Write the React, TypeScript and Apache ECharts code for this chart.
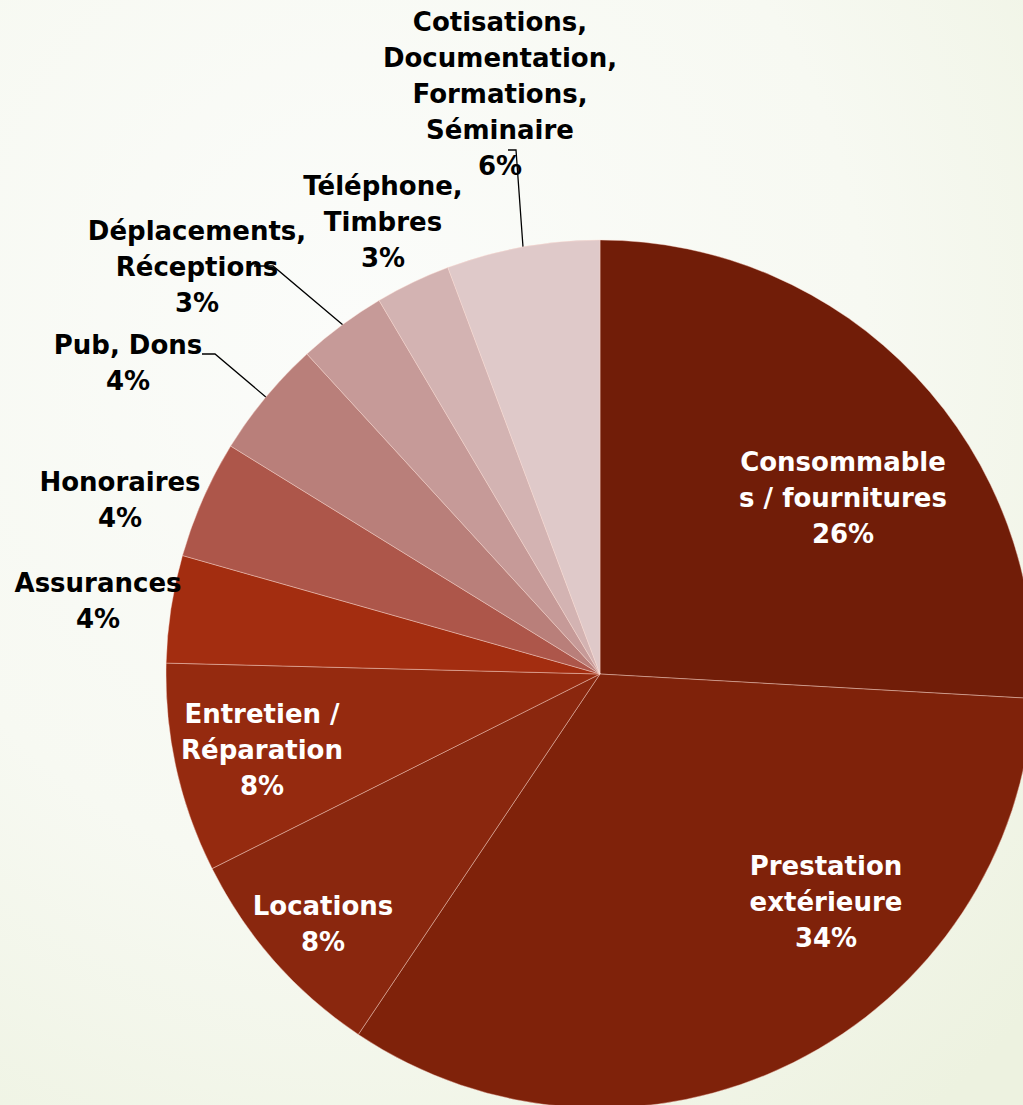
import React, { useEffect, useRef } from "react";
import * as echarts from "echarts";

// ---- Data ----
const categories = [
  "Consommables / fournitures",
  "Prestation extérieure",
  "Locations",
  "Entretien / Réparation",
  "Assurances",
  "Honoraires",
  "Pub, Dons",
  "Déplacements, Réceptions",
  "Téléphone, Timbres",
  "Cotisations, Documentation, Formations, Séminaire",
];
const values = [25.9, 33.5, 8.2, 7.8, 4.0, 4.4, 4.4, 3.3, 2.8, 5.7];
const labelTexts = [
  "Consommable\ns / fournitures",
  "Prestation\nextérieure",
  "Locations",
  "Entretien /\nRéparation",
  "Assurances",
  "Honoraires",
  "Pub, Dons",
  "Déplacements,\nRéceptions",
  "Téléphone,\nTimbres",
  "Cotisations,\nDocumentation,\nFormations,\nSéminaire",
];
const colors = [
  "#711D08",
  "#7F220A",
  "#8A270E",
  "#952A0F",
  "#A32D10",
  "#AD564A",
  "#B97F7A",
  "#C69A98",
  "#D3B3B2",
  "#DFC9C9",
];
const insideLabel = [true, true, true, true, false, false, false, false, false, false];

// ---- Layout (positions of label blocks, leader lines) ----
const labelPos: number[][] = [
  [843, 498],
  [826, 902],
  [323, 924],
  [262, 750],
  [98, 601],
  [120, 500],
  [128, 363],
  [197, 267],
  [383, 222],
  [500, 94],
];
const leaderLines: (number[][] | null)[] = [
  null,
  null,
  null,
  null,
  null,
  null,
  [[267, 398], [215, 354], [202, 354]],
  [[343, 325], [273, 266], [254, 266]],
  null,
  [[523, 247], [516, 150], [508, 150]],
];

export default function App() {
  const ref = useRef<HTMLDivElement>(null);
  useEffect(() => {
    document.body.style.margin = "0";
    const chart = echarts.init(ref.current!, null, { renderer: "svg" });
    const data = categories.map((name, i) => ({
      name,
      value: values[i],
      itemStyle: { color: colors[i] },
      label: {
        position: insideLabel[i] ? "inside" : "outside",
        color: insideLabel[i] ? "#ffffff" : "#000000",
      },
      labelLine: { show: !!leaderLines[i] },
    }));
    chart.setOption({
      animation: false,
      backgroundColor: new echarts.graphic.RadialGradient(0.35, 0.3, 0.9, [
        { offset: 0, color: "#fbfcfa" },
        { offset: 0.55, color: "#f7f9f2" },
        { offset: 1, color: "#edf2e0" },
      ]),
      series: [
        {
          type: "pie",
          center: [600, 674],
          radius: 434,
          startAngle: 90,
          clockwise: true,
          avoidLabelOverlap: false,
          percentPrecision: 0,
          data,
          itemStyle: {
            borderColor: "rgba(255,220,210,0.4)",
            borderWidth: 1,
          },
          label: {
            show: true,
            fontFamily: "DejaVu Sans",
            fontWeight: "bold",
            fontSize: 26,
            lineHeight: 36,
            align: "center",
            formatter: (p: any) => labelTexts[p.dataIndex] + "\n" + p.percent + "%",
          },
          labelLine: {
            lineStyle: { color: "#000000", width: 1.3 },
          },
          labelLayout: (params: any) => {
            const i = params.dataIndex;
            const pos = labelPos[i];
            const out: any = {
              x: pos[0],
              y: pos[1],
              align: "center",
              verticalAlign: "middle",
            };
            if (leaderLines[i]) out.labelLinePoints = leaderLines[i];
            return out;
          },
        },
      ],
    });
    return () => chart.dispose();
  }, []);
  return (
    <div
      ref={ref}
      style={{ position: "absolute", left: 0, top: 0, width: 1023, height: 1105 }}
    />
  );
}
